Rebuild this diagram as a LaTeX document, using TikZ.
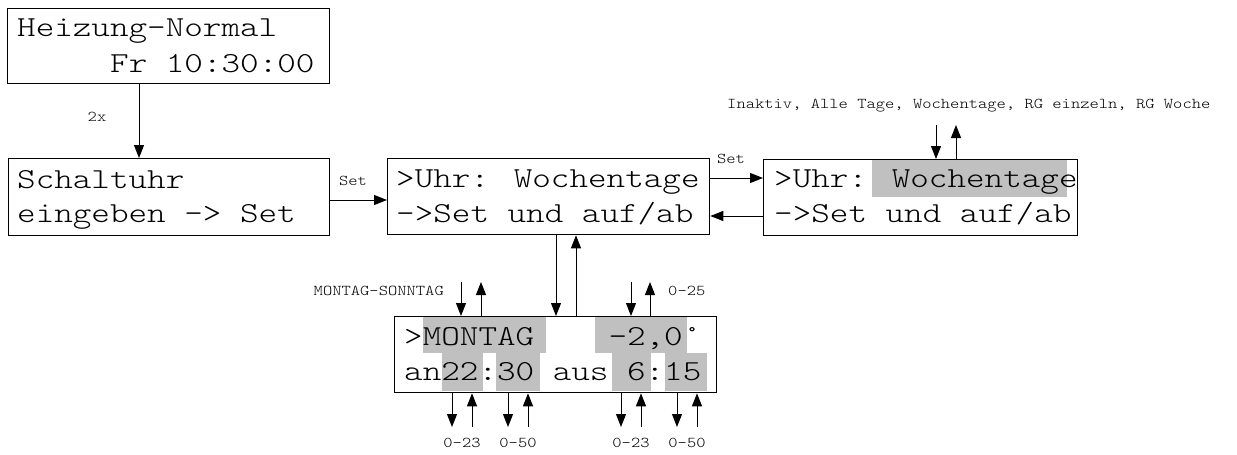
\documentclass[tikz,border=0pt]{standalone}
\usepackage{fontspec}
\usepackage{graphicx}
\newfontfamily\lcdf{lmmonolt10-regular.otf}
\usetikzlibrary{arrows.meta}
\definecolor{hl}{HTML}{C0C0C0}
\newcommand\lcdtxt[1]{\scalebox{1.22}[1]{\lcdf\fontsize{29}{34}\selectfont #1}}
\newcommand\smalltxt[1]{\scalebox{1.18}[1]{\lcdf\fontsize{15}{18}\selectfont #1}}
\begin{document}
\begin{tikzpicture}[x=1pt,y=-1pt,
  box/.style={draw=black,line width=1.3pt,inner sep=0pt,anchor=north west},
  lcd/.style={inner sep=0pt,anchor=base west},
  lbl/.style={inner sep=0pt,anchor=base},
  conn/.style={line width=1pt,-{Triangle[length=13pt,width=10pt]}}]
\useasboundingbox (0,0) rectangle (1237,455);
% highlights
\fill[hl] (872,160) rectangle (1067,197);
\fill[hl] (423,317) rectangle (546,353);
\fill[hl] (595,317) rectangle (687,353);
\fill[hl] (442,353) rectangle (483,391);
\fill[hl] (496,353) rectangle (540,391);
\fill[hl] (612,353) rectangle (651,391);
\fill[hl] (665,353) rectangle (707,391);
% boxes
\node[box,minimum width=322pt,minimum height=75pt] (b1) at (7,8) {};
\node[box,minimum width=321pt,minimum height=77pt] (b2) at (8,158) {};
\node[box,minimum width=322pt,minimum height=76pt] (b3) at (387,158) {};
\node[box,minimum width=314pt,minimum height=76pt] (b4) at (763,159) {};
\node[box,minimum width=322pt,minimum height=76pt] (b5) at (394,316) {};
% texts
\node[lcd] (t1a) at (17,36) {\lcdtxt{Heizung-Normal}};
\node[lcd] (t1b) at (110,72) {\lcdtxt{Fr 10:30:00}};
\node[lcd] (t2a) at (17,188) {\lcdtxt{Schaltuhr}};
\node[lcd] (t2b) at (17,222) {\lcdtxt{eingeben -> Set}};
\node[lcd] (t3a) at (396,187) {\lcdtxt{>Uhr: Wochentage}};
\node[lcd] (t3b) at (396,222) {\lcdtxt{->Set und auf/ab}};
\node[lcd] (t4a) at (774,187) {\lcdtxt{>Uhr: Wochentage}};
\node[lcd] (t4b) at (774,222) {\lcdtxt{->Set und auf/ab}};
\node[lcd] (t5a) at (404,345) {\lcdtxt{>MONTAG~~~~-2,0°}};
\node[lcd] (t5b) at (404,380) {\lcdtxt{an22:30 aus 6:15}};
% labels
\node[lbl] (l2x) at (97,121) {\smalltxt{2x}};
\node[lbl] (lset1) at (353,185) {\smalltxt{Set}};
\node[lbl] (lset2) at (731,163) {\smalltxt{Set}};
\node[lbl,anchor=base west] (lin) at (727,108) {\smalltxt{Inaktiv, Alle Tage, Wochentage, RG einzeln, RG Woche}};
\node[lbl,anchor=base east] (lmo) at (444,295) {\smalltxt{MONTAG-SONNTAG}};
\node[lbl,anchor=base west] (l025) at (668,295) {\smalltxt{0-25}};
\node[lbl] (lb1) at (462,447) {\smalltxt{0-23}};
\node[lbl] (lb2) at (518,447) {\smalltxt{0-50}};
\node[lbl] (lb3) at (631,447) {\smalltxt{0-23}};
\node[lbl] (lb4) at (687,447) {\smalltxt{0-50}};
% main connectors
\draw[conn] (b1.south -| 139,0) -- (b2.north -| 139,0);
\draw[conn] (b2.east |- 0,200) -- (b3.west |- 0,200);
\draw[conn] (b3.east |- 0,178) -- (b4.west |- 0,178);
\draw[conn] (b4.west |- 0,216) -- (b3.east |- 0,216);
\draw[conn] (b3.south -| 556,0) -- (b5.north -| 556,0);
\draw[conn] (b5.north -| 576,0) -- (b3.south -| 576,0);
% up/down selectors
\coordinate (c4d) at (936,125);
\coordinate (c4u) at (956,125);
\draw[conn] (c4d) -- (b4.north -| c4d);
\draw[conn] (b4.north -| c4u) -- (c4u);
\foreach \xd/\xu in {461/481,631/650}{
  \coordinate (cd) at (\xd,282);
  \coordinate (cu) at (\xu,282);
  \draw[conn] (cd) -- (b5.north -| cd);
  \draw[conn] (b5.north -| cu) -- (cu);
}
\foreach \xd/\xu in {452/472,508/528,621/641,677/697}{
  \coordinate (cd) at (\xd,427);
  \coordinate (cu) at (\xu,427);
  \draw[conn] (b5.south -| cd) -- (cd);
  \draw[conn] (cu) -- (b5.south -| cu);
}
\end{tikzpicture}
\end{document}
